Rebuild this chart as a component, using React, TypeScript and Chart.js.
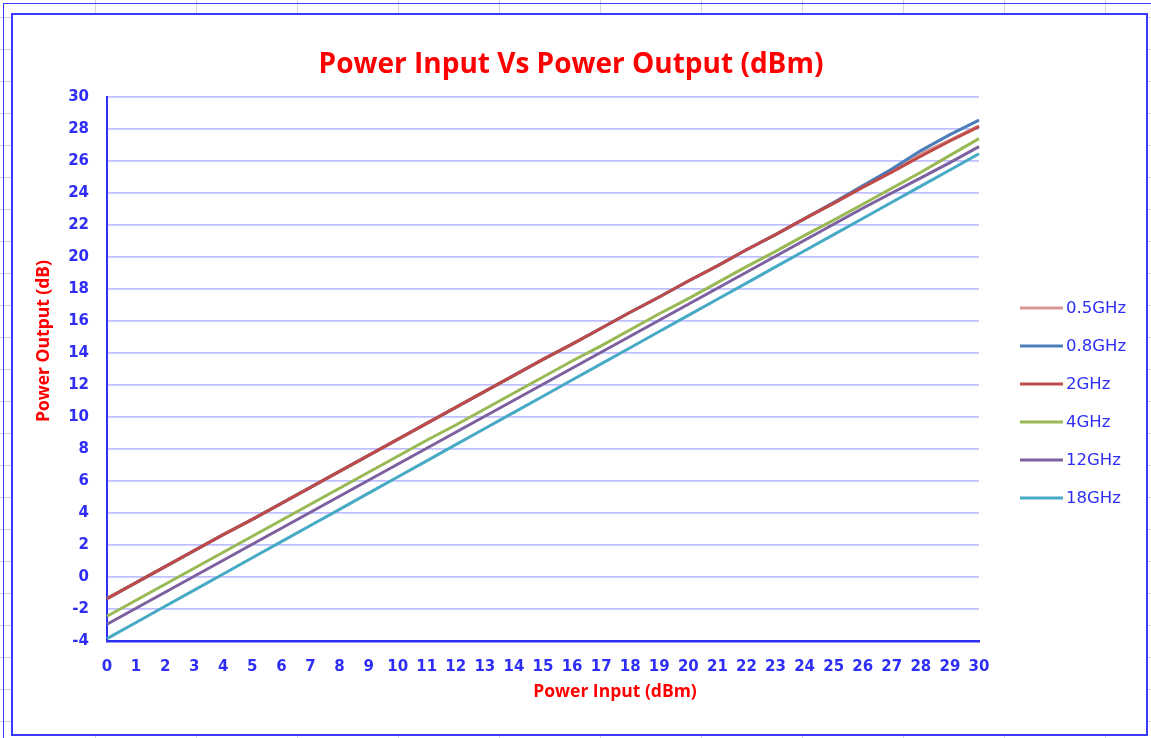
import React, { useEffect, useRef } from "react";
import { Chart, registerables } from "chart.js";

Chart.register(...registerables);

const CHART_TITLE = "Power Input Vs Power Output (dBm)";
const X_TITLE = "Power Input (dBm)";
const Y_TITLE = "Power Output (dB)";

const inputDbm = [
  0, 1, 2, 3, 4, 5, 6, 7, 8, 9, 10, 11, 12, 13, 14, 15, 16, 17, 18, 19, 20,
  21, 22, 23, 24, 25, 26, 27, 28, 29, 30,
];

const seriesLabels = ["0.5GHz", "0.8GHz", "2GHz", "4GHz", "12GHz", "18GHz"];

const out05GHz = [
  -1.35, -0.35, 0.65, 1.65, 2.65, 3.6, 4.6, 5.6, 6.6, 7.6, 8.6, 9.6, 10.6,
  11.6, 12.6, 13.6, 14.55, 15.55, 16.55, 17.5, 18.5, 19.45, 20.45, 21.4, 22.4,
  23.4, 24.45, 25.45, 26.45, 27.3, 28.2,
];
const out08GHz = [
  -1.35, -0.35, 0.65, 1.65, 2.65, 3.6, 4.6, 5.6, 6.6, 7.6, 8.6, 9.6, 10.6,
  11.6, 12.6, 13.6, 14.55, 15.55, 16.55, 17.5, 18.5, 19.45, 20.45, 21.4, 22.4,
  23.4, 24.45, 25.5, 26.65, 27.65, 28.55,
];
const out2GHz = [
  -1.35, -0.35, 0.65, 1.65, 2.65, 3.6, 4.6, 5.6, 6.6, 7.6, 8.6, 9.6, 10.6,
  11.6, 12.6, 13.6, 14.55, 15.55, 16.55, 17.5, 18.5, 19.45, 20.45, 21.4, 22.4,
  23.35, 24.35, 25.3, 26.3, 27.25, 28.15,
];
const out4GHz = [
  -2.45, -1.45, -0.45, 0.55, 1.55, 2.55, 3.55, 4.55, 5.55, 6.55, 7.55, 8.55,
  9.5, 10.5, 11.5, 12.5, 13.5, 14.45, 15.45, 16.45, 17.4, 18.4, 19.4, 20.35,
  21.35, 22.3, 23.3, 24.3, 25.3, 26.35, 27.4,
];
const out12GHz = [
  -2.95, -1.95, -0.95, 0.05, 1.05, 2.05, 3.05, 4.05, 5.05, 6.05, 7.05, 8.05,
  9.05, 10.05, 11.05, 12.05, 13.05, 14.05, 15.05, 16.05, 17.05, 18.05, 19.05,
  20.05, 21.05, 22.05, 23.05, 24.0, 24.95, 25.9, 26.9,
];
const out18GHz = [
  -3.85, -2.84, -1.83, -0.82, 0.19, 1.2, 2.21, 3.22, 4.23, 5.24, 6.25, 7.26,
  8.27, 9.28, 10.29, 11.3, 12.31, 13.32, 14.33, 15.34, 16.35, 17.36, 18.37,
  19.38, 20.39, 21.4, 22.41, 23.42, 24.43, 25.44, 26.45,
];

const seriesValues = [out05GHz, out08GHz, out2GHz, out4GHz, out12GHz, out18GHz];
const seriesColors = ["#DA9694", "#4A7DBA", "#BE4B48", "#98B954", "#7D60A0", "#46AAC5"];

const yTickMin = -4;
const yTickMax = 30;
const yTickStep = 2;

const BLUE = "#2E2EF5";
const RED = "#FF0000";

const overlayText = {
  id: "overlayText",
  afterDraw(chart: any) {
    const { ctx, chartArea } = chart;
    ctx.save();
    // axis titles
    ctx.fillStyle = RED;
    ctx.font = 'bold 17.5px "Open Sans"';
    ctx.textAlign = "center";
    ctx.textBaseline = "middle";
    ctx.fillText(X_TITLE, chartArea.left + 508, chartArea.bottom + 51);
    ctx.save();
    ctx.translate(chartArea.left - 63, chartArea.top + 244);
    ctx.rotate(-Math.PI / 2);
    ctx.fillText(Y_TITLE, 0, 0);
    ctx.restore();
    // legend
    ctx.font = '16.5px "DejaVu Sans"';
    ctx.textAlign = "left";
    chart.data.datasets.forEach((ds: any, i: number) => {
      const y = chartArea.top + 211 + i * 38;
      const x0 = chartArea.right + 41;
      ctx.strokeStyle = ds.borderColor;
      ctx.lineWidth = 3;
      ctx.beginPath();
      ctx.moveTo(x0, y);
      ctx.lineTo(x0 + 43, y);
      ctx.stroke();
      ctx.fillStyle = BLUE;
      ctx.fillText(ds.label, x0 + 46, y + 1);
    });
    ctx.restore();
  },
};

export default function App() {
  const canvasRef = useRef<HTMLCanvasElement | null>(null);

  useEffect(() => {
    if (!canvasRef.current) return;
    const chart = new Chart(canvasRef.current, {
      type: "line",
      data: {
        labels: inputDbm.map(String),
        datasets: seriesLabels.map((label, i) => ({
          label,
          data: seriesValues[i],
          borderColor: seriesColors[i],
          backgroundColor: seriesColors[i],
          borderWidth: 3,
          pointRadius: 0,
          tension: 0,
          fill: false,
          order: seriesLabels.length - i,
        })),
      },
      options: {
        responsive: false,
        animation: false,
        layout: { padding: { left: 0, right: 9, top: 0, bottom: 0 } },
        plugins: {
          legend: { display: false },
          tooltip: { enabled: false },
          title: {
            display: true,
            text: CHART_TITLE,
            color: RED,
            font: { family: '"Open Sans"', size: 28, weight: "bold", lineHeight: 1.2 },
            padding: { top: 48, bottom: 15.4 },
          },
        },
        scales: {
          x: {
            type: "category",
            offset: false,
            grid: { display: false, drawTicks: false },
            border: { display: true, color: BLUE, width: 2.5 },
            ticks: {
              color: BLUE,
              font: { family: '"DejaVu Sans"', size: 15, weight: "bold" },
              padding: 17,
              autoSkip: false,
              maxRotation: 0,
            },
            afterFit: (s: any) => {
              s.height = 97;
            },
          },
          y: {
            type: "linear",
            position: "left",
            min: yTickMin,
            max: yTickMax,
            grid: { color: "#C0C0FF", lineWidth: 1.7, drawTicks: false },
            border: { display: true, color: BLUE, width: 2 },
            ticks: {
              stepSize: yTickStep,
              color: BLUE,
              font: { family: '"DejaVu Sans"', size: 15, weight: "bold" },
              padding: 18,
            },
            afterFit: (s: any) => {
              s.width = 107;
            },
          },
          legendSpace: {
            type: "linear",
            position: "right",
            display: true,
            grid: { display: false, drawTicks: false },
            border: { display: false },
            ticks: { display: false },
            afterFit: (s: any) => {
              s.width = 163;
            },
          },
        },
      },
      plugins: [overlayText],
    });
    return () => chart.destroy();
  }, []);

  return (
    <div
      style={{
        position: "absolute",
        left: 0,
        top: 0,
        width: 1151,
        height: 738,
        overflow: "hidden",
        backgroundColor: "#ffffff",
        backgroundImage:
          "repeating-linear-gradient(to right, transparent 0px, transparent 100px, #d6d6d6 100px, #d6d6d6 101px), repeating-linear-gradient(to bottom, transparent 0px, transparent 31px, #d6d6d6 31px, #d6d6d6 32px)",
        backgroundPosition: "-5px 0px, 0px -14px",
      }}
    >
      <div
        style={{
          position: "absolute",
          left: 3,
          top: 3,
          width: 1160,
          height: 760,
          borderTop: "1.5px solid #3A3AFF",
          borderLeft: "1.5px solid #3A3AFF",
        }}
      />
      <div
        style={{
          position: "absolute",
          left: 11,
          top: 13,
          width: 1137,
          height: 723,
          boxSizing: "border-box",
          border: "2px solid #3A3AFF",
          background: "#ffffff",
        }}
      />
      <canvas
        ref={canvasRef}
        width={1151}
        height={738}
        style={{ position: "absolute", left: 0, top: 0, width: 1151, height: 738 }}
      />
    </div>
  );
}
